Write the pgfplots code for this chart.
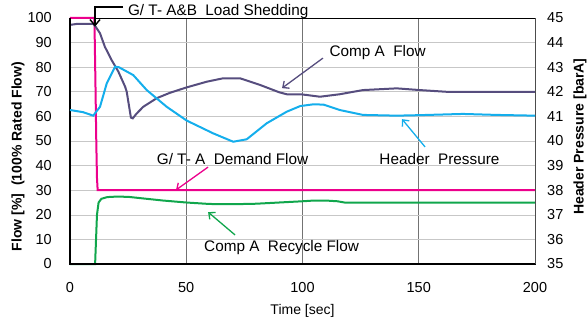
\documentclass[border=0pt]{standalone}
\usepackage{fontspec}
\setmainfont{Liberation Sans}
\usepackage{pgfplots}
\pgfplotsset{compat=1.18}
\usetikzlibrary{arrows.meta}
\definecolor{cmag}{RGB}{236,0,140}
\definecolor{cpur}{RGB}{86,77,126}
\definecolor{ccya}{RGB}{20,174,236}
\definecolor{cgrn}{RGB}{16,166,76}
\begin{document}
\begin{tikzpicture}
\begin{axis}[
  width=465pt, height=246pt, scale only axis,
  xmin=0, xmax=200, ymin=0, ymax=100,
  xtick={0,50,...,200}, ytick={0,10,...,100},
  major tick length=0pt,
  xmajorgrids, ymajorgrids,
  every axis x grid/.style={black!55, line width=0.6pt},
  every axis y grid/.style={black!22, line width=0.6pt},
  axis line style={black, line width=0.8pt},
  tick label style={font=\fontsize{14.5}{16}\selectfont},
  /pgf/number format/assume math mode=true,
  yticklabel style={anchor=east, inner sep=0pt, xshift=-18pt},
  xticklabel style={anchor=center, inner sep=0pt, yshift=-24pt},
  xlabel={Time [sec]},
  ylabel={\bfseries Flow [\%]\ \ (100\% Rated Flow)},
  label style={font=\fontsize{14}{16}\selectfont},
  xlabel style={at={(rel axis cs:0.5,-0.19)}, anchor=center},
  ylabel style={at={(rel axis cs:-0.112,0.437)}, anchor=center},
  clip=false,
]
\coordinate (SW) at (rel axis cs:0,0);
\coordinate (NE) at (rel axis cs:1,1);
% G/T-A demand flow
\addplot[cmag, line width=2pt] coordinates {(0,100) (10.5,100) (11.0,70) (11.3,50) (11.6,35) (11.9,30) (200,30)};
% Recycle flow
\addplot[cgrn, line width=2pt] coordinates {(0,0) (10.8,0) (11.2,10) (11.6,20) (12.3,25) (13.5,26.5) (16,27.2) (20,27.4) (25,27.3) (30,26.8) (40,25.8) (50,25) (60,24.4) (70,24.3) (80,24.5) (90,25) (100,25.5) (105,25.8) (110,25.8) (115,25.5) (118,25) (130,25) (200,25)};
% Comp A flow
\addplot[cpur, line width=2pt] coordinates {(0,97.2) (3,97.6) (10,97.6) (11,96.5) (12.9,93.8) (15,88.3) (17.9,82.9) (20.8,78.2) (23.7,72.1) (24.4,70) (26.2,59.5) (27,59.2) (28.5,61) (31.5,63.9) (37.3,67.4) (43,69.6) (50.2,71.8) (58.8,74.1) (65.9,75.5) (73.1,75.5) (81.7,72.8) (90,69.8) (93.2,69) (99,69) (101.8,68.7) (107.5,68) (116,69) (126,70.7) (140.5,71.4) (150.5,70.7) (162,70) (200,70)};
% annotations
\draw[black, line width=1.4pt, -{Straight Barb[length=6pt,width=10pt]}] (axis cs:22.8,104.5) -- (axis cs:10.75,104.5) -- (axis cs:10.75,96.5);
\node[anchor=west, font=\fontsize{15.3}{17}\selectfont, inner sep=0pt] at (axis cs:24.9,102.6) {G/ T- A\&B\ \ Load Shedding};
\node[font=\fontsize{15.3}{17}\selectfont, inner sep=0pt] at (axis cs:132.3,85.8) {Comp A\ \ Flow};
\draw[cpur, line width=1.3pt, -{Straight Barb[length=5pt,width=9pt]}] (axis cs:108.8,83.7) -- (axis cs:91.2,71.5);
\node[font=\fontsize{15.3}{17}\selectfont, inner sep=0pt] at (axis cs:158.9,42.7) {Header\ \ Pressure};
\draw[ccya, line width=1.3pt, -{Straight Barb[length=5pt,width=9pt]}] (axis cs:152.7,47.6) -- (axis cs:142.8,58.9);
\node[font=\fontsize{15.3}{17}\selectfont, inner sep=0pt] at (axis cs:69.9,42.7) {G/ T- A\ \ Demand Flow};
\draw[cmag, line width=1.3pt, -{Straight Barb[length=5pt,width=9pt]}] (axis cs:59.4,39.4) -- (axis cs:45.6,30.1);
\node[font=\fontsize{15.3}{17}\selectfont, inner sep=0pt] at (axis cs:91,6.5) {Comp A\ \ Recycle Flow};
\draw[cgrn, line width=1.3pt, -{Straight Barb[length=5pt,width=9pt]}] (axis cs:71,11.8) -- (axis cs:59.4,21.1);
\draw[black, line width=1.6pt] (rel axis cs:0,1) -- (rel axis cs:0,0) -- (rel axis cs:1,0);
\end{axis}
\begin{axis}[
  width=465pt, height=246pt, scale only axis,
  xmin=0, xmax=200, ymin=35, ymax=45,
  ytick={35,36,...,45},
  axis y line*=right, axis x line=none,
  major tick length=0pt,
  axis line style={black!70, line width=1pt},
  tick label style={font=\fontsize{14.5}{16}\selectfont},
  /pgf/number format/assume math mode=true,
  yticklabel style={anchor=west, inner sep=0pt, xshift=12pt},
  ylabel={\bfseries Header Pressure [barA]},
  label style={font=\fontsize{14}{16}\selectfont},
  ylabel style={at={(rel axis cs:1.097,0.518)}, anchor=center},
]
\addplot[ccya, line width=2pt] coordinates {(0,41.26) (5.7,41.17) (10,41.03) (12.9,41.39) (15.8,42.34) (19.4,43.02) (21,43.0) (27.2,42.68) (33,42.07) (41.6,41.39) (50.2,40.83) (61.6,40.31) (70.2,39.97) (76,40.07) (84.6,40.72) (93.2,41.19) (99,41.42) (104.6,41.49) (109,41.48) (116,41.26) (126,41.06) (140.5,41.03) (150,41.05) (169,41.1) (183.5,41.06) (200,41.03)};
\end{axis}
\pgfresetboundingbox
\path[use as bounding box] ([xshift=-70pt,yshift=-57pt]SW) rectangle ([xshift=53pt,yshift=18pt]NE);
\end{tikzpicture}
\end{document}
